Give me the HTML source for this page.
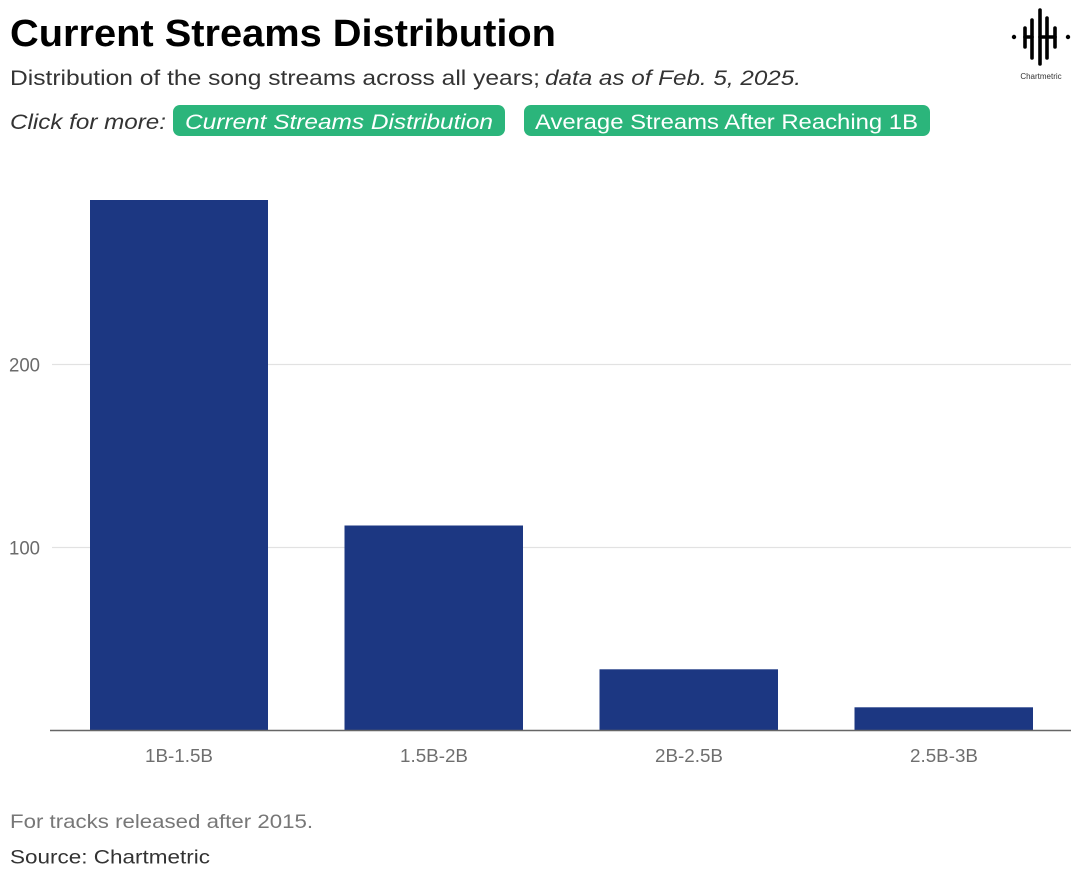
<!DOCTYPE html>
<html>
<head>
<meta charset="utf-8">
<style>
  html, body { margin:0; padding:0; background:#fff; }
  svg { display:block; }
  text { font-family: "Liberation Sans", "DejaVu Sans", sans-serif; }
</style>
</head>
<body>
<svg width="1080" height="878" viewBox="0 0 1080 878" xmlns="http://www.w3.org/2000/svg">
  <rect x="0" y="0" width="1080" height="878" fill="#ffffff"/>

  <!-- Title -->
  <text x="10" y="46" font-size="38" font-weight="bold" fill="#000" textLength="546" lengthAdjust="spacingAndGlyphs">Current Streams Distribution</text>

  <!-- Subtitle -->
  <text x="10" y="85" font-size="21" fill="#333" textLength="530" lengthAdjust="spacingAndGlyphs">Distribution of the song streams across all years;</text>
  <text x="545" y="85" font-size="21" font-style="italic" fill="#333" textLength="256" lengthAdjust="spacingAndGlyphs">data as of Feb. 5, 2025.</text>

  <!-- Click for more -->
  <text x="10" y="129" font-size="21" font-style="italic" fill="#333" textLength="156" lengthAdjust="spacingAndGlyphs">Click for more:</text>
  <rect x="173" y="105" width="332" height="31" rx="7" fill="#2bb57b"/>
  <text x="185" y="129" font-size="21" font-style="italic" fill="#fff" textLength="308" lengthAdjust="spacingAndGlyphs">Current Streams Distribution</text>
  <rect x="524" y="105" width="406" height="31" rx="7" fill="#2bb57b"/>
  <text x="535" y="129" font-size="21" fill="#fff" textLength="383" lengthAdjust="spacingAndGlyphs">Average Streams After Reaching 1B</text>

  <!-- Logo -->
  <g stroke="#000" stroke-width="3.6" stroke-linecap="round" fill="none">
    <line x1="1025" y1="28" x2="1025" y2="47"/>
    <line x1="1032" y1="20" x2="1032" y2="58"/>
    <line x1="1025" y1="37" x2="1032" y2="37"/>
    <line x1="1040" y1="10" x2="1040" y2="64"/>
    <line x1="1047" y1="18" x2="1047" y2="58"/>
    <line x1="1040" y1="37" x2="1047" y2="37"/>
    <line x1="1055" y1="28" x2="1055" y2="47"/>
    <line x1="1047" y1="37" x2="1055" y2="37"/>
  </g>
  <circle cx="1014" cy="37" r="2.2" fill="#000"/>
  <circle cx="1068" cy="37" r="2.2" fill="#000"/>
  <text x="1041" y="79" font-size="8" fill="#333" text-anchor="middle">Chartmetric</text>

  <!-- Grid lines -->
  <line x1="52" y1="364.5" x2="1071" y2="364.5" stroke="#e2e2e2" stroke-width="1.2"/>
  <line x1="52" y1="547.5" x2="1071" y2="547.5" stroke="#e2e2e2" stroke-width="1.2"/>

  <!-- Y labels -->
  <text x="9" y="371.5" font-size="19" fill="#6b6b6b" textLength="31" lengthAdjust="spacingAndGlyphs">200</text>
  <text x="9" y="554.5" font-size="19" fill="#6b6b6b" textLength="31" lengthAdjust="spacingAndGlyphs">100</text>

  <!-- Bars -->
  <rect x="90" y="200" width="178" height="530.5" fill="#1c3782"/>
  <rect x="344.5" y="525.5" width="178.5" height="205" fill="#1c3782"/>
  <rect x="599.5" y="669.3" width="178.5" height="61.2" fill="#1c3782"/>
  <rect x="854.5" y="707.3" width="178.5" height="23.2" fill="#1c3782"/>

  <!-- Axis -->
  <line x1="50" y1="730.5" x2="1071" y2="730.5" stroke="#666" stroke-width="1.6"/>

  <!-- X labels -->
  <text x="179" y="762" font-size="18.5" fill="#6f6f6f" text-anchor="middle" textLength="68" lengthAdjust="spacingAndGlyphs">1B-1.5B</text>
  <text x="434" y="762" font-size="18.5" fill="#6f6f6f" text-anchor="middle" textLength="68" lengthAdjust="spacingAndGlyphs">1.5B-2B</text>
  <text x="689" y="762" font-size="18.5" fill="#6f6f6f" text-anchor="middle" textLength="68" lengthAdjust="spacingAndGlyphs">2B-2.5B</text>
  <text x="944" y="762" font-size="18.5" fill="#6f6f6f" text-anchor="middle" textLength="68" lengthAdjust="spacingAndGlyphs">2.5B-3B</text>

  <!-- Footer -->
  <text x="10" y="828" font-size="19.5" fill="#777" textLength="303" lengthAdjust="spacingAndGlyphs">For tracks released after 2015.</text>
  <text x="10" y="863.5" font-size="19.5" fill="#333" textLength="200" lengthAdjust="spacingAndGlyphs">Source: Chartmetric</text>
</svg>
</body>
</html>
